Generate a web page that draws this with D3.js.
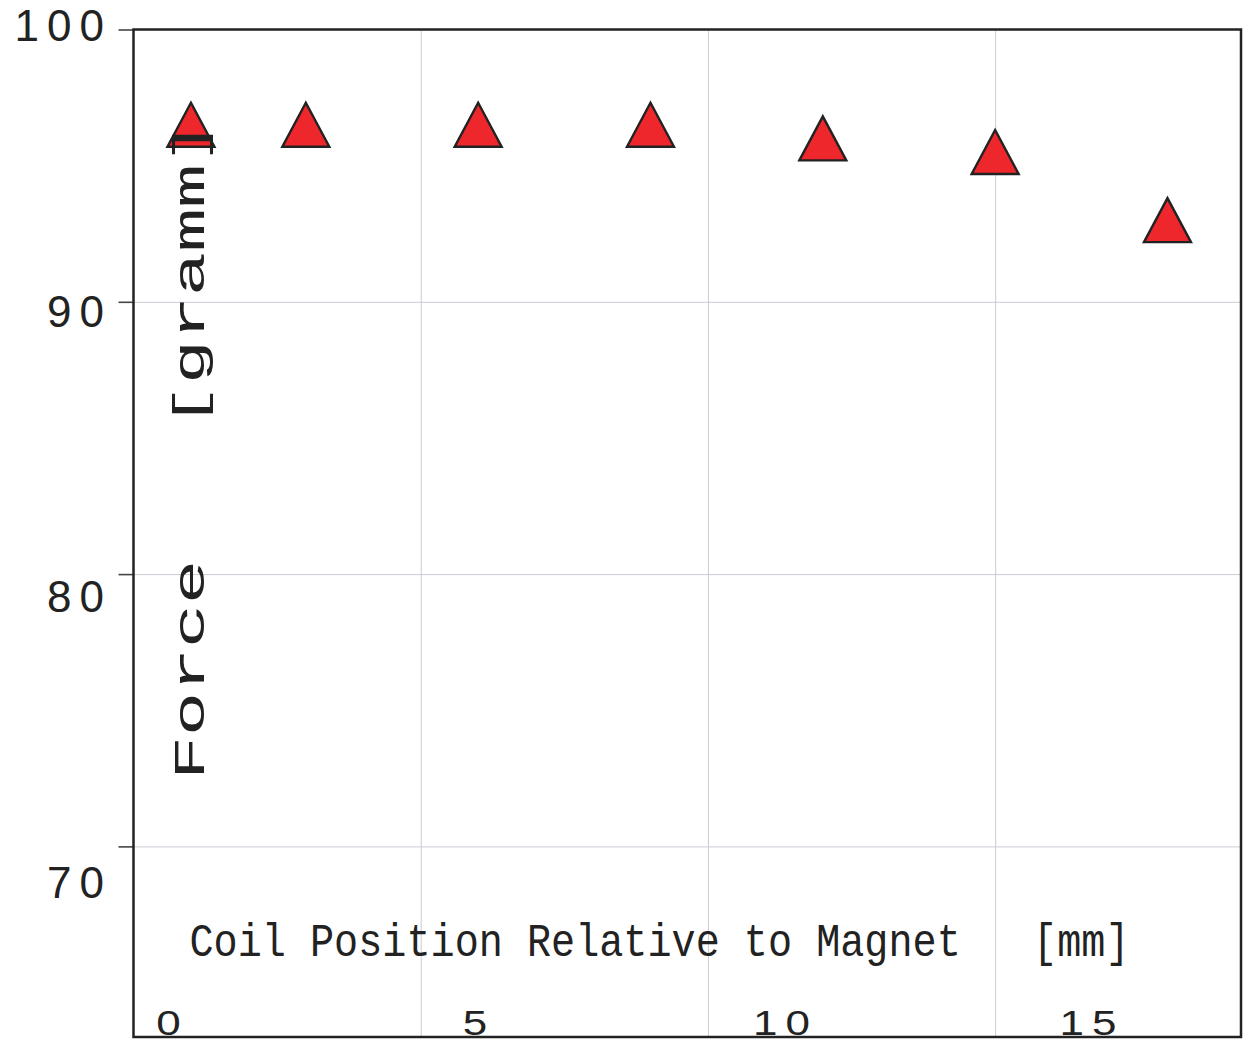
<!DOCTYPE html>
<html>
<head>
<meta charset="utf-8">
<script src="https://cdn.jsdelivr.net/npm/d3@7"></script>
<style>
  html, body { margin: 0; padding: 0; background: #fff; }
  svg { display: block; }
</style>
</head>
<body>
<svg id="chart" width="1251" height="1039"></svg>
<script>
// Coil position (mm) and measured force (gramm)
const positions = [1, 3, 6, 9, 12, 15, 18];
const forces = [96.5, 96.5, 96.5, 96.5, 96.0, 95.5, 93.0];

// Axis ticks
const xTicks = [0, 5, 10, 15];
const yTicks = [70, 80, 90, 100];
const xDomain = [0, 19.28];
const yDomain = [63, 100];

// Axis titles
const xTitle = "Coil Position Relative to Magnet   [mm]";
const yTitle = "Force   [gramm]";

const W = 1251, H = 1039;
const plot = { left: 133.5, top: 29.5, right: 1241, bottom: 1037 };

const svg = d3.select("#chart");

const x = d3.scaleLinear().domain(xDomain).range([plot.left, plot.right]);
const y = d3.scaleLinear().domain(yDomain).range([plot.bottom, plot.top]);

// Tick labels sit on a slightly wider spacing than the grid
const xLab = d3.scaleLinear().domain([0, 15])
  .range([plot.left + 35, plot.left + 35 + (x(15) - x(0)) * 1.067]);
const yLab = d3.scaleLinear().domain([100, 70])
  .range([plot.top + 11.5, plot.top + 11.5 + (y(70) - y(100)) * 1.049]);

// Grid lines
const gridColor = "#c9ccd5";
svg.append("g")
  .attr("transform", `translate(0,${plot.bottom})`)
  .call(d3.axisBottom(x).tickValues(xTicks.filter(v => v > xDomain[0]))
    .tickSize(-(plot.bottom - plot.top)).tickFormat(""))
  .call(g => g.select(".domain").remove())
  .call(g => g.selectAll(".tick line").attr("stroke", gridColor).attr("stroke-width", 1));

svg.append("g")
  .attr("transform", `translate(${plot.left},0)`)
  .call(d3.axisLeft(y).tickValues(yTicks.filter(v => v < yDomain[1]))
    .tickSize(-(plot.right - plot.left)).tickFormat(""))
  .call(g => g.select(".domain").remove())
  .call(g => g.selectAll(".tick line").attr("stroke", gridColor).attr("stroke-width", 1));

// Outer tick marks on the force axis
svg.append("g")
  .attr("transform", `translate(${plot.left},0)`)
  .call(d3.axisLeft(y).tickValues(yTicks).tickSize(15).tickFormat(""))
  .call(g => g.select(".domain").remove())
  .call(g => g.selectAll(".tick line").attr("stroke", "#444").attr("stroke-width", 1.6));

// Triangle markers
const half = 23.5, tri = 44;
svg.append("g")
  .selectAll("path")
  .data(positions.map((p, i) => ({ p, f: forces[i] })))
  .join("path")
  .attr("d", d => {
    const cx = x(d.p), cy = y(d.f);
    return `M${cx},${cy - tri / 2}L${cx + half},${cy + tri / 2}L${cx - half},${cy + tri / 2}Z`;
  })
  .attr("fill", "#ee272d")
  .attr("stroke", "#222")
  .attr("stroke-width", 2.4)
  .attr("stroke-linejoin", "miter");

// Axis titles
svg.append("text")
  .attr("x", 189.5)
  .attr("y", 956)
  .attr("font-family", "'Liberation Mono', monospace")
  .attr("font-size", 46)
  .attr("fill", "#222")
  .attr("textLength", 940)
  .attr("lengthAdjust", "spacingAndGlyphs")
  .style("white-space", "pre")
  .text(xTitle);

svg.append("text")
  .attr("transform", "translate(204,780) rotate(-90)")
  .attr("font-family", "'Liberation Mono', monospace")
  .attr("font-size", 45)
  .attr("fill", "#222")
  .attr("textLength", 660)
  .attr("lengthAdjust", "spacingAndGlyphs")
  .style("white-space", "pre")
  .text(yTitle);

// Frame
svg.append("rect")
  .attr("x", plot.left).attr("y", plot.top)
  .attr("width", plot.right - plot.left).attr("height", plot.bottom - plot.top)
  .attr("fill", "none")
  .attr("stroke", "#222")
  .attr("stroke-width", 2.5);

// Tick labels
const labelFont = "'Liberation Sans', Arial, sans-serif";
svg.append("g")
  .selectAll("text")
  .data(yTicks)
  .join("text")
  .attr("x", 112)
  .attr("y", d => yLab(d))
  .attr("text-anchor", "end")
  .attr("font-family", labelFont)
  .attr("font-size", 44)
  .attr("letter-spacing", 8)
  .attr("fill", "#222")
  .text(d => d);

// Position labels are drawn flattened along the bottom edge
svg.append("g")
  .selectAll("text")
  .data(xTicks)
  .join("text")
  .attr("transform", d => `translate(${xLab(d) + 4},1034.5) scale(1,0.79)`)
  .attr("text-anchor", "middle")
  .attr("font-family", labelFont)
  .attr("font-size", 44)
  .attr("letter-spacing", 8)
  .attr("fill", "#222")
  .text(d => d);
</script>
</body>
</html>
